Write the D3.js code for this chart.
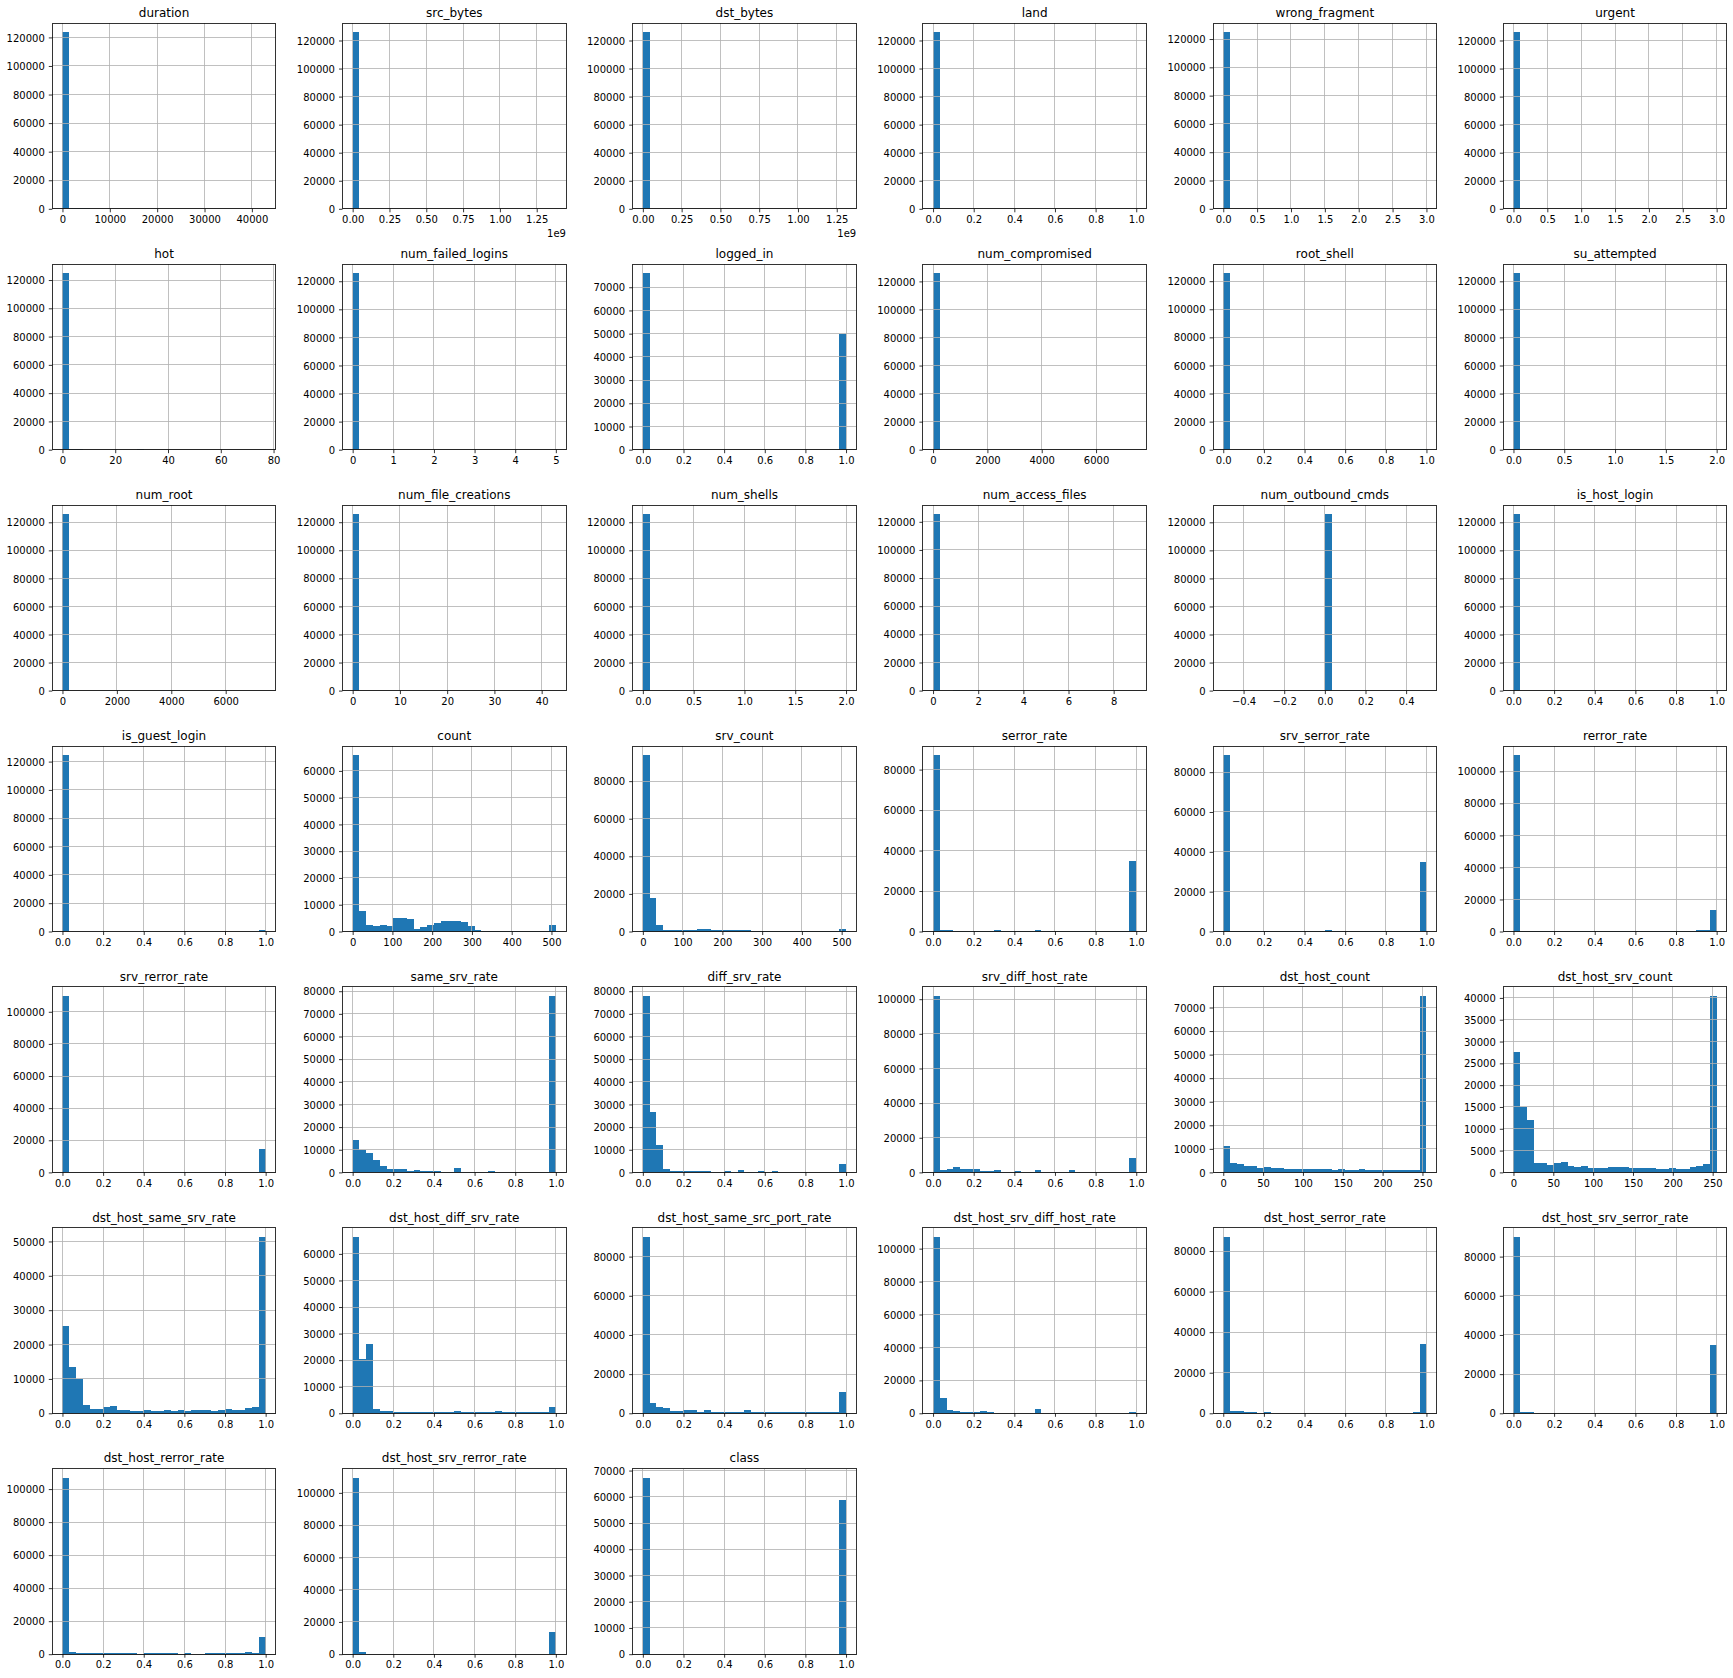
<!DOCTYPE html>
<html>
<head>
<meta charset="utf-8">
<script src="https://cdn.jsdelivr.net/npm/d3@7"></script>
<style>
  html, body { margin: 0; padding: 0; background: #ffffff; }
  svg { display: block; }
  text { font-family: "DejaVu Sans", sans-serif; fill: #000; }
</style>
</head>
<body>
<script>
// ---------------- DATA ----------------
const features = [
  "duration","src_bytes","dst_bytes","land","wrong_fragment","urgent",
  "hot","num_failed_logins","logged_in","num_compromised","root_shell","su_attempted",
  "num_root","num_file_creations","num_shells","num_access_files","num_outbound_cmds","is_host_login",
  "is_guest_login","count","srv_count","serror_rate","srv_serror_rate","rerror_rate",
  "srv_rerror_rate","same_srv_rate","diff_srv_rate","srv_diff_host_rate","dst_host_count","dst_host_srv_count",
  "dst_host_same_srv_rate","dst_host_diff_srv_rate","dst_host_same_src_port_rate","dst_host_srv_diff_host_rate","dst_host_serror_rate","dst_host_srv_serror_rate",
  "dst_host_rerror_rate","dst_host_srv_rerror_rate","class"
];

// data range (min, max) of each feature; the 30 equal bins span this range
const xMin = [
  0,0,0,0,0,0,
  0,0,0,0,0,0,
  0,0,0,0,0,0,
  0,0,0,0,0,0,
  0,0,0,0,0,0,
  0,0,0,0,0,0,
  0,0,0
];
const xMax = [
  42908,1379963888,1309937401,1,3,3,
  77,5,1,7479,1,2,
  7468,43,2,9,0,1,
  1,511,511,1,1,1,
  1,1,1,1,255,255,
  1,1,1,1,1,1,
  1,1,1
];

// 30 bin counts per feature
const c_duration = [123700,600,350,250,180,150,120,100,90,80, 60,50,40,30,30,25,20,20,15,15, 10,10,10,8,6,5,4,3,2,2];
const c_src_bytes = [125965,3,1,1,0,0,0,0,0,0, 0,0,0,0,0,0,0,0,0,0, 0,0,0,0,0,0,0,0,0,1];
const c_dst_bytes = [125966,2,1,0,0,0,0,0,0,0, 0,0,0,0,0,0,0,0,0,0, 0,0,0,0,0,0,0,0,0,1];
const c_land = [125948,0,0,0,0,0,0,0,0,0, 0,0,0,0,0,0,0,0,0,0, 0,0,0,0,0,0,0,0,0,25];
const c_wrong_fragment = [124883,0,0,0,0,0,0,0,0,0, 206,0,0,0,0,0,0,0,0,0, 0,0,0,0,0,0,0,0,0,884];
const c_urgent = [125964,0,0,0,0,0,0,0,0,0, 5,0,0,0,0,0,0,0,0,0, 3,0,0,0,0,0,0,0,0,1];
const c_hot = [124950,450,150,50,0,30,0,80,0,0, 70,150,10,0,0,0,0,0,0,0, 0,0,0,0,0,0,0,0,0,30];
const c_num_failed_logins = [125851,0,0,0,0,0,104,0,0,0, 0,0,10,0,0,0,0,0,5,0, 0,0,0,0,1,0,0,0,0,2];
const c_logged_in = [76121,0,0,0,0,0,0,0,0,0, 0,0,0,0,0,0,0,0,0,0, 0,0,0,0,0,0,0,0,0,49852];
const c_num_compromised = [125970,1,0,0,0,0,0,0,0,0, 0,0,0,0,0,0,0,0,0,0, 0,0,0,0,0,0,0,0,0,1];
const c_root_shell = [125804,0,0,0,0,0,0,0,0,0, 0,0,0,0,0,0,0,0,0,0, 0,0,0,0,0,0,0,0,0,169];
const c_su_attempted = [125893,0,0,0,0,0,0,0,0,0, 0,0,0,0,0,21,0,0,0,0, 0,0,0,0,0,0,0,0,0,59];
const c_num_root = [125968,1,0,0,0,0,0,0,0,0, 0,0,0,0,0,0,0,0,0,0, 0,0,0,0,0,0,0,0,0,1];
const c_num_file_creations = [125900,30,15,10,4,3,2,2,1,1, 1,0,0,0,0,1,0,0,0,0, 0,0,0,0,0,0,0,0,0,5];
const c_num_shells = [125926,0,0,0,0,0,0,0,0,0, 0,0,0,0,0,42,0,0,0,0, 0,0,0,0,0,0,0,0,0,5];
const c_num_access_files = [125602,0,0,348,0,0,15,0,0,0, 4,0,0,2,0,0,1,0,0,0, 0,0,0,0,0,0,1,0,0,1];
const c_num_outbound_cmds = [0,0,0,0,0,0,0,0,0,0, 0,0,0,0,0,125973,0,0,0,0, 0,0,0,0,0,0,0,0,0,0];
const c_is_host_login = [125972,0,0,0,0,0,0,0,0,0, 0,0,0,0,0,0,0,0,0,0, 0,0,0,0,0,0,0,0,0,1];
const c_is_guest_login = [124786,0,0,0,0,0,0,0,0,0, 0,0,0,0,0,0,0,0,0,0, 0,0,0,0,0,0,0,0,0,1187];
const c_count = [66000,7500,2250,1900,2600,1900,4900,4900,4500,1100, 1500,2600,3000,3750,3750,3750,3400,1900,400,60, 30,20,20,15,10,10,10,10,40,2250];
const c_srv_count = [94000,17600,3400,600,600,600,600,600,1250,1250, 550,550,550,550,550,550,60,30,20,15, 10,10,10,10,10,10,10,10,20,1250];
const c_serror_rate = [87300,600,600,80,60,60,50,60,60,600, 80,60,60,50,60,600,60,50,50,40, 50,40,40,40,40,40,40,50,80,34700];
const c_srv_serror_rate = [88700,200,100,60,50,40,40,40,40,40, 40,40,40,40,40,600,40,40,40,40, 40,40,40,40,40,40,40,50,80,34800];
const c_rerror_rate = [110300,60,60,40,40,40,40,40,40,40, 40,40,40,40,40,150,40,40,40,40, 40,40,40,40,40,40,100,800,800,13200];
const c_srv_rerror_rate = [110000,60,60,40,40,40,40,40,40,40, 40,40,40,40,40,100,40,40,40,40, 40,40,40,40,40,40,60,300,300,14800];
const c_same_srv_rate = [14100,9700,8400,5300,2650,1300,1300,1300,450,900, 450,450,450,100,60,1750,60,60,40,40, 450,40,40,40,60,60,60,80,150,78000];
const c_diff_srv_rate = [78000,26500,12000,1300,450,450,450,450,450,450, 60,60,450,60,1000,60,60,450,60,450, 40,40,40,40,40,40,40,40,60,3500];
const c_srv_diff_host_rate = [102000,1300,1700,2900,1700,1700,1700,600,600,1100, 60,60,600,60,60,1100,60,60,40,40, 1100,40,40,40,40,40,40,40,60,8100];
const c_dst_host_count = [11100,3950,3500,2700,2700,1850,2250,1850,1850,1400, 1400,1400,1400,1400,1400,1400,1000,1400,1000,1000, 1400,1000,1000,1000,1000,1000,1000,1000,1000,75000];
const c_dst_host_srv_count = [27700,15000,12000,2200,2200,1700,2150,2350,1450,1200, 1450,1000,1000,1000,1200,1200,1200,1000,1000,1000, 1000,750,750,1000,750,750,1200,1450,1900,40500];
const c_dst_host_same_srv_rate = [25500,13600,10000,2300,1200,1200,1750,2050,900,900, 600,600,900,600,600,900,600,900,600,900, 900,900,600,900,1200,900,900,1450,1750,51400];
const c_dst_host_diff_srv_rate = [66500,20300,26100,1500,750,750,400,400,400,400, 400,400,400,400,400,750,400,400,400,400, 400,750,400,400,400,400,400,400,400,2300];
const c_dst_host_same_src_port_rate = [90200,5100,3050,2550,1000,1000,1500,1500,500,1500, 500,500,500,500,500,1500,500,500,500,500, 500,500,500,500,500,500,500,500,500,10700];
const c_dst_host_srv_diff_host_rate = [107300,9100,1800,1200,600,600,600,1200,600,80, 60,60,60,60,60,2400,60,60,40,40, 40,40,40,40,40,40,40,40,40,600];
const c_dst_host_serror_rate = [87100,1000,1000,500,500,80,500,80,60,60, 60,60,60,60,60,100,60,60,60,60, 60,60,60,60,60,60,80,100,500,34400];
const c_dst_host_srv_serror_rate = [90200,500,500,60,40,40,40,40,40,40, 40,40,40,40,40,60,40,40,40,40, 40,40,40,40,40,40,40,40,80,34700];
const c_dst_host_rerror_rate = [107000,1200,600,600,600,600,600,600,600,600, 600,60,600,600,600,600,600,60,600,60, 60,600,600,600,600,600,600,1200,600,10700];
const c_dst_host_srv_rerror_rate = [109500,1200,300,100,80,80,60,60,60,60, 60,60,60,60,60,100,60,60,60,60, 60,60,60,60,60,60,80,150,400,13500];
const c_class = [67343,0,0,0,0,0,0,0,0,0, 0,0,0,0,0,0,0,0,0,0, 0,0,0,0,0,0,0,0,0,58630];

const binCounts = [
  c_duration,c_src_bytes,c_dst_bytes,c_land,c_wrong_fragment,c_urgent,
  c_hot,c_num_failed_logins,c_logged_in,c_num_compromised,c_root_shell,c_su_attempted,
  c_num_root,c_num_file_creations,c_num_shells,c_num_access_files,c_num_outbound_cmds,c_is_host_login,
  c_is_guest_login,c_count,c_srv_count,c_serror_rate,c_srv_serror_rate,c_rerror_rate,
  c_srv_rerror_rate,c_same_srv_rate,c_diff_srv_rate,c_srv_diff_host_rate,c_dst_host_count,c_dst_host_srv_count,
  c_dst_host_same_srv_rate,c_dst_host_diff_srv_rate,c_dst_host_same_src_port_rate,c_dst_host_srv_diff_host_rate,c_dst_host_serror_rate,c_dst_host_srv_serror_rate,
  c_dst_host_rerror_rate,c_dst_host_srv_rerror_rate,c_class
];

// ---------------- LAYOUT ----------------
const W = 1733, H = 1678;
const NCOLS = 6;
const LEFT0 = 52.3, DX = 290.2, TOP0 = 23.3, DY = 240.9;
const AW = 223.5, AH = 185.5;
const BAR = "#1f77b4", GRID = "#b0b0b0";

// matplotlib-like MaxNLocator (steps 1, 2, 2.5, 5, 10)
function mplTicks(vmin, vmax, nbins) {
  const base = [0.1, 0.2, 0.25, 0.5, 1, 2, 2.5, 5, 10, 20];
  const dv = vmax - vmin;
  const raw = dv / nbins;
  const scale = Math.pow(10, Math.floor(Math.log10(raw)));
  const steps = base.map(s => s * scale);
  let i = steps.findIndex(s => s >= raw * (1 - 1e-12));
  if (i < 0) i = steps.length - 1;
  for (; i < steps.length; i++) {
    const step = steps[i];
    const lo = Math.ceil(vmin / step - 1e-9), hi = Math.floor(vmax / step + 1e-9);
    if (hi - lo + 1 >= 2) return d3.range(lo, hi + 1).map(k => k * step);
  }
  return [vmin, vmax];
}

// matplotlib ScalarFormatter-like
function makeFormatter(ticks) {
  const maxAbs = d3.max(ticks, t => Math.abs(t)) || 1;
  let oom = Math.floor(Math.log10(maxAbs));
  let exp = 0;
  if (oom >= 6) exp = oom;
  const div = Math.pow(10, exp);
  const vals = ticks.map(t => t / div);
  let dec = 0;
  for (dec = 0; dec < 8; dec++) {
    const m = Math.pow(10, dec);
    if (vals.every(v => Math.abs(Math.round(v * m) - v * m) < 1e-6)) break;
  }
  return {
    fmt: t => {
      let v = t / div;
      if (Math.abs(v) < 1e-12) v = 0;
      return v.toFixed(dec).replace("-", "\u2212");
    },
    offset: exp ? ("1e" + exp) : null
  };
}

const svg = d3.select("body").append("svg")
  .attr("width", W).attr("height", H)
  .attr("viewBox", `0 0 ${W} ${H}`);
svg.append("rect").attr("width", W).attr("height", H).attr("fill", "#fff");

features.forEach((name, idx) => {
  const col = idx % NCOLS, row = Math.floor(idx / NCOLS);
  const x0 = LEFT0 + col * DX, y0 = TOP0 + row * DY;
  const counts = binCounts[idx];
  let lo = xMin[idx], hi = xMax[idx];
  if (lo === hi) { lo -= 0.5; hi += 0.5; }
  const nb = counts.length;
  const bw = (hi - lo) / nb;
  const bins = counts.map((c, k) => ({ x0: lo + k * bw, x1: lo + (k + 1) * bw, c }));
  const pad = 0.05 * (hi - lo);
  const xs = d3.scaleLinear().domain([lo - pad, hi + pad]).range([0, AW]);
  const ymax = d3.max(counts) * 1.05;
  const ys = d3.scaleLinear().domain([0, ymax]).range([AH, 0]);

  const g = svg.append("g").attr("transform", `translate(${x0},${y0})`);

  const xt = mplTicks(lo - pad, hi + pad, 7);
  const yt = mplTicks(0, ymax, 9);
  const xf = makeFormatter(xt), yf = makeFormatter(yt);

  // bars
  g.append("g").selectAll("rect").data(bins.filter(b => b.c > 0)).join("rect")
    .attr("x", d => xs(d.x0))
    .attr("width", d => xs(d.x1) - xs(d.x0))
    .attr("y", d => ys(d.c))
    .attr("height", d => AH - ys(d.c))
    .attr("fill", BAR)
    .attr("shape-rendering", "crispEdges");

  // grid (drawn above bars, like matplotlib's axisbelow='line')
  const grid = g.append("g").attr("stroke", GRID).attr("stroke-width", 0.8).attr("shape-rendering", "crispEdges");
  grid.selectAll("line.gx").data(xt).join("line").attr("class", "gx")
    .attr("x1", d => xs(d)).attr("x2", d => xs(d)).attr("y1", 0).attr("y2", AH);
  grid.selectAll("line.gy").data(yt).join("line").attr("class", "gy")
    .attr("x1", 0).attr("x2", AW).attr("y1", d => ys(d)).attr("y2", d => ys(d));

  // axes via d3
  const xAxis = d3.axisBottom(xs).tickValues(xt).tickFormat(xf.fmt).tickSizeInner(3.5).tickSizeOuter(0).tickPadding(3.5);
  const yAxis = d3.axisLeft(ys).tickValues(yt).tickFormat(yf.fmt).tickSizeInner(3.5).tickSizeOuter(0).tickPadding(3.5);
  const gx = g.append("g").attr("transform", `translate(0,${AH})`).call(xAxis);
  const gy = g.append("g").call(yAxis);
  [gx, gy].forEach(a => {
    a.select(".domain").remove();
    a.selectAll(".tick line").attr("stroke", "#000").attr("stroke-width", 0.8);
    a.selectAll(".tick text").attr("font-family", "DejaVu Sans").attr("font-size", 10).attr("fill", "#000");
  });
  gx.selectAll(".tick text").attr("dy", null).attr("y", 14.3 - 0).attr("dominant-baseline", "alphabetic");
  gy.selectAll(".tick text").attr("dy", null).attr("x", -7.5).attr("y", 3.6).attr("dominant-baseline", "alphabetic");

  // spines
  g.append("rect").attr("x", 0).attr("y", 0).attr("width", AW).attr("height", AH)
    .attr("fill", "none").attr("stroke", "#000").attr("stroke-width", 0.8)
    .attr("shape-rendering", "crispEdges");

  // offset text
  if (xf.offset) {
    g.append("text").attr("x", AW).attr("y", AH + 28).attr("text-anchor", "end")
      .attr("font-size", 10).text(xf.offset);
  }

  // title
  g.append("text").attr("x", AW / 2).attr("y", -6.3).attr("text-anchor", "middle")
    .attr("font-size", 12).text(name);
});
</script>
</body>
</html>
